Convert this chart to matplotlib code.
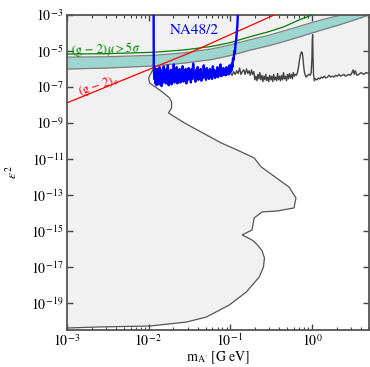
import matplotlib
matplotlib.use('Agg')
import matplotlib.pyplot as plt
import numpy as np

plt.rcParams['font.family'] = 'STIXGeneral'
plt.rcParams['mathtext.fontset'] = 'stix'

# all y values are log10(eps^2), masses in GeV

# (g-2)_mu favoured band
band_mass = [0.001, 0.003, 0.0115, 0.0275, 0.06, 0.1, 0.18, 0.3, 0.456, 0.7, 1.0, 1.5, 2.26, 3.3, 5.0, 6.0]
band_hi = [-5.34, -5.32, -5.24, -5.1, -4.88, -4.66, -4.36, -4.12, -3.88, -3.63, -3.42, -3.2, -3.0, -2.8, -2.6, -2.5]
band_lo = [-6.0, -5.95, -5.83, -5.67, -5.47, -5.25, -4.94, -4.7, -4.47, -4.22, -4.0, -3.76, -3.52, -3.28, -3.0, -2.85]

# (g-2)_mu > 5 sigma
gm_mass = [0.001, 0.003, 0.0115, 0.0275, 0.06, 0.1, 0.18, 0.3, 0.456, 0.7, 1.0, 1.3]
gm_val = [-5.17, -5.15, -5.07, -4.94, -4.74, -4.53, -4.19, -3.92, -3.65, -3.27, -3.0, -2.75]

# (g-2)_e
ge_mass = [0.001, 0.003, 0.01, 0.0316, 0.1, 0.2, 0.344, 0.5]
ge_val = [-7.88, -7.0, -6.03, -5.11, -4.09, -3.48, -3.0, -2.67]

# NA48/2 (mass in MeV)
na48_mev = [11.5, 11.55, 11.7, 11.9, 12.1, 12.3, 12.5, 12.7, 12.9, 13.1,
            13.4, 13.6, 13.9, 14.1, 14.4, 14.7, 15.0, 15.3, 15.6, 15.9,
            16.2, 16.5, 16.9, 17.2, 17.6, 18.0, 18.3, 18.7, 19.1, 19.5,
            19.9, 20.3, 20.7, 21.2, 21.6, 22.1, 22.5, 23.0, 23.5, 24.0,
            24.5, 25.0, 25.6, 26.1, 26.7, 27.2, 27.8, 28.4, 29.0, 29.6,
            30.3, 30.9, 31.6, 32.2, 32.9, 33.6, 34.4, 35.1, 35.9, 36.6,
            37.4, 38.2, 39.0, 39.9, 40.7, 41.6, 42.5, 43.4, 44.3, 45.3,
            46.3, 47.3, 48.3, 49.3, 50.4, 51.5, 52.6, 53.7, 54.9, 56.1,
            57.3, 58.5, 59.8, 61.1, 62.4, 63.7, 65.1, 66.5, 67.9, 69.4,
            70.9, 72.4, 74.0, 75.6, 77.2, 78.9, 80.6, 82.3, 84.1, 85.9,
            87.7, 89.6, 91.6, 93.5, 95.5, 97.6, 99.7, 101.8, 103.0, 104.5,
            106.0, 108.0, 110.0, 112.0, 114.0, 116.0, 118.0, 120.0, 122.0, 125.0]
na48_val = [-2.5, -5.75, -6.55, -5.95, -6.8, -6.1, -6.9, -6.0, -6.7, -6.2,
            -6.85, -5.9, -6.6, -6.05, -6.95, -6.3, -6.75, -5.85, -6.5, -6.15,
            -6.8, -6.0, -6.6, -5.8, -6.9, -6.2, -6.7, -6.05, -6.85, -6.3,
            -6.6, -5.75, -6.75, -6.1, -6.5, -5.9, -6.8, -6.25, -6.6, -6.0,
            -6.75, -6.15, -6.55, -5.85, -6.7, -6.2, -6.45, -6.0, -6.8, -6.3,
            -6.6, -5.95, -6.5, -6.1, -6.75, -6.0, -6.55, -5.7, -6.45, -6.2,
            -6.7, -6.05, -6.45, -5.9, -6.6, -6.15, -6.5, -6.0, -6.65, -6.25,
            -6.5, -5.8, -6.4, -6.1, -6.6, -5.95, -6.45, -6.2, -6.55, -6.0,
            -6.4, -6.1, -6.55, -5.85, -6.35, -6.05, -6.5, -6.15, -6.4, -5.9,
            -6.45, -6.0, -6.3, -5.75, -6.4, -6.05, -6.35, -5.95, -6.3, -6.1,
            -6.35, -5.9, -6.25, -6.0, -6.3, -5.8, -6.2, -5.95, -6.1, -5.7,
            -5.9, -5.4, -5.5, -5.0, -5.1, -4.6, -4.4, -4.0, -3.6, -2.5]

# other limits (dark line)
bl_mass = [0.0115, 0.020, 0.030, 0.045, 0.060, 0.075, 0.090, 0.100, 0.105, 0.110, 0.115,
           0.120, 0.125, 0.130, 0.135, 0.140, 0.146, 0.152, 0.158, 0.164, 0.170,
           0.176, 0.182, 0.188, 0.194, 0.200, 0.206, 0.212, 0.218, 0.224, 0.230,
           0.237, 0.244, 0.251, 0.258, 0.265, 0.272, 0.280, 0.288, 0.296, 0.304,
           0.313, 0.322, 0.331, 0.340, 0.350, 0.360, 0.370, 0.380, 0.391, 0.402,
           0.413, 0.425, 0.437, 0.449, 0.462, 0.475, 0.488, 0.502, 0.516, 0.530,
           0.545, 0.560, 0.576, 0.592, 0.608, 0.625, 0.645, 0.665, 0.685, 0.705,
           0.725, 0.745, 0.760, 0.775, 0.790, 0.810, 0.830, 0.850, 0.870, 0.890,
           0.920, 0.950, 0.980, 1.000, 1.010, 1.020, 1.030, 1.045, 1.070, 1.100,
           1.15, 1.20, 1.25, 1.30, 1.36, 1.42, 1.48, 1.55, 1.62, 1.70,
           1.78, 1.86, 1.95, 2.04, 2.14, 2.24, 2.35, 2.46, 2.58, 2.70,
           2.83, 2.96, 3.10, 3.20, 3.30, 3.40, 3.55, 3.75, 4.00, 4.30,
           4.60, 5.00, 5.50]
bl_val = [-6.3, -6.3, -6.35, -6.3, -6.4, -6.3, -6.35, -6.2, -6.35, -6.15, -6.3,
          -6.1, -6.25, -5.95, -6.3, -6.15, -6.05, -6.3, -6.0, -6.25, -6.1,
          -6.35, -6.05, -6.3, -6.15, -6.6, -6.4, -6.65, -6.3, -6.55, -6.2,
          -6.6, -6.35, -6.7, -6.4, -6.6, -6.3, -6.65, -6.45, -6.7, -6.35,
          -6.6, -6.4, -6.7, -6.3, -6.6, -6.45, -6.65, -6.25, -6.6, -6.4,
          -6.65, -6.35, -6.6, -6.2, -6.55, -6.4, -6.65, -6.3, -6.55, -6.25,
          -6.5, -6.3, -6.55, -6.2, -6.4, -6.3, -6.35, -6.2, -5.9, -5.5,
          -5.2, -5.05, -5.1, -5.35, -5.8, -6.2, -6.35, -6.45, -6.4, -6.35,
          -6.3, -6.35, -6.2, -5.4, -4.4, -4.1, -5.2, -6.3, -6.65, -6.55,
          -6.6, -6.5, -6.55, -6.45, -6.5, -6.4, -6.5, -6.45, -6.35, -6.45,
          -6.4, -6.45, -6.35, -6.4, -6.3, -6.4, -6.35, -6.3, -6.4, -6.35,
          -6.3, -6.35, -6.2, -6.05, -6.3, -6.1, -6.35, -6.3, -6.2, -6.3,
          -6.2, -6.25, -6.2]

# beam dump outline
bd_mass = [0.0112, 0.0100, 0.0103, 0.0148, 0.018, 0.0191, 0.0191, 0.0175, 0.0275, 0.0776,
           0.1216, 0.196, 0.239, 0.525, 0.638, 0.603, 0.374, 0.245, 0.196, 0.185,
           0.14, 0.185, 0.213, 0.245, 0.262, 0.255, 0.226, 0.157, 0.0973, 0.0509,
           0.029, 0.0103, 0.00252, 0.001]
bd_val = [-6.06, -6.5, -6.78, -7.28, -7.61, -7.83, -8.17, -8.44, -9.0, -10.11,
          -10.5, -10.94, -11.44, -12.56, -13.17, -13.72, -13.89, -13.94, -14.28, -14.94,
          -15.22, -15.5, -15.75, -16.1, -16.5, -17.0, -17.56, -18.39, -19.11, -19.78,
          -20.06, -20.28, -20.33, -20.39]

x_ticks = [0.001, 0.01, 0.1, 1.0]
x_labels = [r'$10^{-\,3}$', r'$10^{-\,2}$', r'$10^{-\,1}$', r'$10^{0}$']
y_exps = [-3, -5, -7, -9, -11, -13, -15, -17, -19]

XMIN, XMAX = 1e-3, 5.0
YMIN, YMAX = 10**-20.5, 1e-3

gray = '#f1f1f1'
fig = plt.figure(figsize=(3.7, 3.67), dpi=100)
ax = fig.add_axes([67/370, 37/367, 302/370, 315/367])

# excluded regions
bx = bd_mass + [XMIN, bd_mass[0]]
by = list(10**np.array(bd_val)) + [YMAX, YMAX]
ax.fill(bx, by, color=gray, lw=0, zorder=1)
ax.fill_between(bl_mass, 10**np.array(bl_val), YMAX, color=gray, lw=0, zorder=1)
ax.plot(bd_mass, 10**np.array(bd_val), color='#555555', lw=0.9, zorder=3)

# (g-2)mu band
ax.fill_between(band_mass, 10**np.array(band_lo), 10**np.array(band_hi), color='#9dd5cf', lw=0, zorder=2)
ax.plot(band_mass, 10**np.array(band_lo), color='#7f7f7f', lw=0.9, zorder=2)
ax.plot(band_mass, 10**np.array(band_hi), color='#7f7f7f', lw=0.9, zorder=2)

ax.plot(gm_mass, 10**np.array(gm_val), color='#008000', lw=0.9, zorder=3)
ax.plot(ge_mass, 10**np.array(ge_val), color='#ff0000', lw=0.9, zorder=3)

ax.plot(bl_mass[1:], 10**np.array(bl_val[1:]), color='#444444', lw=1.0, zorder=3)
ax.plot(np.array(na48_mev) / 1000, 10**np.array(na48_val), color='#0000ff', lw=1.7, zorder=4)

ax.text(0.0364, 10**-3.83, 'NA48/2', color='#0000ff', fontsize=11, ha='center', va='center', zorder=5)
ax.text(0.00109, 10**-4.9, r'$(\mathrm{g}\,-\,2)\mu > 5\sigma$', color='#008000', fontsize=9,
        ha='left', va='center', rotation=2, zorder=5)
ax.text(0.00245, 10**-6.95, r'$(\mathrm{g}\,-\,2)_{\mathrm{e}}$', color='#ff0000', fontsize=9,
        ha='center', va='center', rotation=18, zorder=5)

ax.set_xscale('log')
ax.set_yscale('log')
ax.set_xlim(XMIN, XMAX)
ax.set_ylim(YMIN, YMAX)

ax.set_xticks(x_ticks)
ax.set_xticklabels(x_labels)
ax.set_yticks([10.0**e for e in y_exps])
ax.set_yticklabels([r'$10^{-\,%d}$' % abs(e) for e in y_exps])
ax.yaxis.set_minor_locator(matplotlib.ticker.NullLocator())
ax.xaxis.set_minor_locator(matplotlib.ticker.LogLocator(base=10, subs=np.arange(2, 10)))
ax.tick_params(which='both', direction='in', top=True, right=True, color='#444444', labelsize=10, pad=2)
ax.tick_params(which='major', length=4.5, width=1)
ax.tick_params(which='minor', length=2.5, width=0.8)
for s in ax.spines.values():
    s.set_color('#555555')
    s.set_linewidth(1.3)

ax.set_xlabel(r"$\mathrm{m}_{\mathrm{A}^{\prime}}$ [G eV]", fontsize=10, labelpad=0)
ax.set_ylabel(r'$\epsilon^{2}$', fontsize=10, labelpad=8)

fig.savefig('out.png', dpi=100)
